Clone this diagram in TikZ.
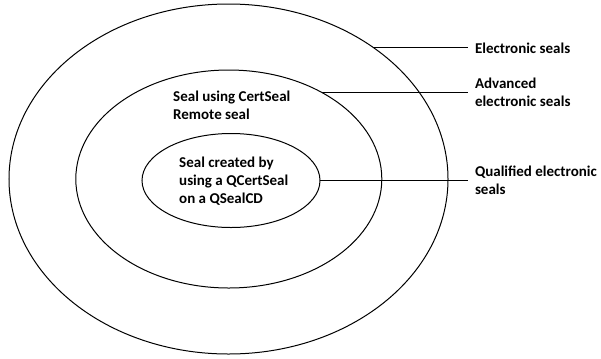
\documentclass[tikz,border=0pt]{standalone}
\usepackage{fontspec}
\setmainfont{Carlito}
\usetikzlibrary{shapes.geometric}
\begin{document}
\begin{tikzpicture}[x=1bp,y=-1bp,
  ring/.style={draw=black, line width=1bp, ellipse, inner sep=0pt, outer sep=0pt},
  txt/.style={font=\fontsize{15bp}{18bp}\selectfont\bfseries, align=left, inner sep=0pt, anchor=west},
  lbl/.style={font=\fontsize{15bp}{18bp}\selectfont\bfseries, align=left, inner xsep=7bp, inner ysep=0pt, outer sep=0pt, anchor=west},
  leader/.style={draw=black, line width=1bp}]
\useasboundingbox (0,0) rectangle (601,358);
\node[ring, minimum width=439bp, minimum height=350bp] (outer) at (228.5,179) {};
\node[ring, minimum width=306bp, minimum height=218bp] (middle) at (228.8,179) {};
\node[ring, minimum width=178bp, minimum height=94bp] (inner) at (231,180.5) {};
\node[txt] (midtext) at (173,105.5) {Seal using CertSeal\\Remote seal};
\node[txt] (intext) at (179,181) {Seal created by\\using a QCertSeal\\on a QSealCD};
\node[lbl] (elab) at (468,48.5) {Electronic seals};
\node[lbl] (alab) at (468,92.5) {Advanced\\electronic seals};
\node[lbl] (qlab) at (468,180.5) {Qualified electronic\\seals};
\draw[leader] (outer.42) -- (outer.42 -| elab.west);
\draw[leader] (middle.43) -- (middle.43 -| alab.west);
\draw[leader] (inner.east) -- (qlab.west);
\end{tikzpicture}
\end{document}
